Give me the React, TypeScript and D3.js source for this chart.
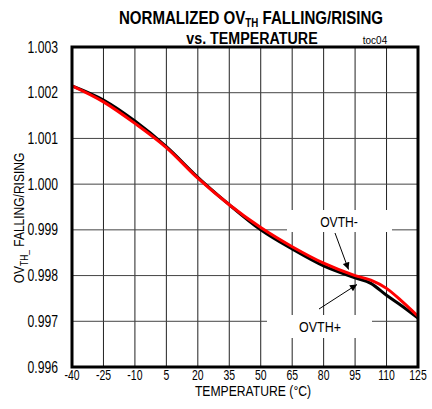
import React from "react";
import * as d3 from "d3";

const temps = [-40, -25, -10, 5, 20, 35, 50, 65, 80, 95, 102.5, 110, 117.5, 125];
const ovthFalling = [1.00215, 1.0018, 1.00133, 1.0008, 1.00013, 0.99955, 0.99905, 0.99863, 0.99827, 0.998, 0.9979, 0.99772, 0.99743, 0.99711];
const ovthRising = [1.00215, 1.00184, 1.00138, 1.00082, 1.00015, 0.99955, 0.999, 0.99858, 0.99821, 0.99795, 0.99783, 0.99757, 0.99733, 0.99707];
const xTicks = [-40, -25, -10, 5, 20, 35, 50, 65, 80, 95, 110, 125];
const yTicks = [0.996, 0.997, 0.998, 0.999, 1.0, 1.001, 1.002, 1.003];

const FONT = "'Liberation Sans', Arial, sans-serif";

function NText(props: {
  x: number; y: number; s: number; size: number; anchor?: string; bold?: boolean; rot?: boolean; children: React.ReactNode;
}) {
  const { x, y, s, size, anchor = "middle", bold, rot, children } = props;
  return (
    <text
      transform={`translate(${x},${y})${rot ? " rotate(-90)" : ""} scale(${s},1)`}
      textAnchor={anchor}
      fontSize={size}
      fontWeight={bold ? "bold" : "normal"}
      fill="#000"
    >
      {children}
    </text>
  );
}

export default function App() {
  const W = 432, H = 409;
  const L = 72, R = 418, T = 47, B = 367;
  const x = d3.scaleLinear().domain([-40, 125]).range([L, R]);
  const y = d3.scaleLinear().domain([0.996, 1.003]).range([B, T]);
  const mk = (vals: number[]) =>
    d3.line<number>().x((_, i) => x(temps[i])).y((v) => y(v)).curve(d3.curveMonotoneX)(vals) || "";

  return (
    <svg width={W} height={H} style={{ position: "absolute", left: 0, top: 0, background: "#fff" }} fontFamily={FONT}>
      <defs>
        <marker id="ah" viewBox="0 0 10 10" refX="10" refY="5" markerWidth="9" markerHeight="7" orient="auto" markerUnits="userSpaceOnUse">
          <path d="M0,0 L10,5 L0,10 z" fill="#000" />
        </marker>
      </defs>
      <rect x={0} y={0} width={W} height={H} fill="#fff" />
      {/* grid */}
      {xTicks.slice(1, -1).map((t) => (
        <line key={"gx" + t} x1={x(t)} x2={x(t)} y1={T} y2={B} stroke="#222" strokeWidth={1} />
      ))}
      {yTicks.slice(1, -1).map((t) => (
        <line key={"gy" + t} x1={L} x2={R} y1={y(t)} y2={y(t)} stroke="#444" strokeWidth={1} />
      ))}
      {/* label boxes */}
      <rect x={287} y={210} width={105} height={22} fill="#fff" />
      <rect x={267} y={315} width={105} height={23} fill="#fff" />
      {/* curves */}
      <path d={mk(ovthRising)} fill="none" stroke="#000" strokeWidth={3} />
      <path d={mk(ovthFalling)} fill="none" stroke="#ff0000" strokeWidth={3} />
      {/* border */}
      <rect x={L} y={T} width={R - L} height={B - T} fill="none" stroke="#000" strokeWidth={3} />
      {/* y tick labels */}
      {yTicks.map((t) => (
        <NText key={"yl" + t} x={58} y={y(t) + 5.5} s={0.76} size={16} anchor="end">
          {d3.format(".3f")(t)}
        </NText>
      ))}
      {/* x tick labels */}
      {xTicks.map((t) => (
        <NText key={"xl" + t} x={x(t)} y={380} s={0.72} size={14.5}>
          {t}
        </NText>
      ))}
      <NText x={253} y={395.5} s={0.84} size={14.5}>TEMPERATURE (°C)</NText>
      <NText x={24} y={218} s={0.8} size={15} rot>
        OV<tspan fontSize={10.5} dy={4}>TH_</tspan><tspan dy={-4}> FALLING/RISING</tspan>
      </NText>
      {/* title */}
      <NText x={251} y={24} s={0.815} size={18.5} bold>
        NORMALIZED OV<tspan fontSize={12} dy={2.5}>TH</tspan><tspan dy={-2.5}> FALLING/RISING</tspan>
      </NText>
      <NText x={252} y={44} s={0.84} size={17} bold>vs. TEMPERATURE</NText>
      <NText x={375} y={44} s={0.95} size={10.5}>toc04</NText>
      {/* annotations */}
      <NText x={339} y={227} s={0.81} size={15}>OVTH-</NText>
      <line x1={335} y1={233} x2={348.5} y2={269.5} stroke="#000" strokeWidth={1} markerEnd="url(#ah)" />
      <NText x={320} y={332} s={0.83} size={15}>OVTH+</NText>
      <line x1={319} y1={309} x2={357} y2={284.5} stroke="#000" strokeWidth={1} markerEnd="url(#ah)" />
    </svg>
  );
}
